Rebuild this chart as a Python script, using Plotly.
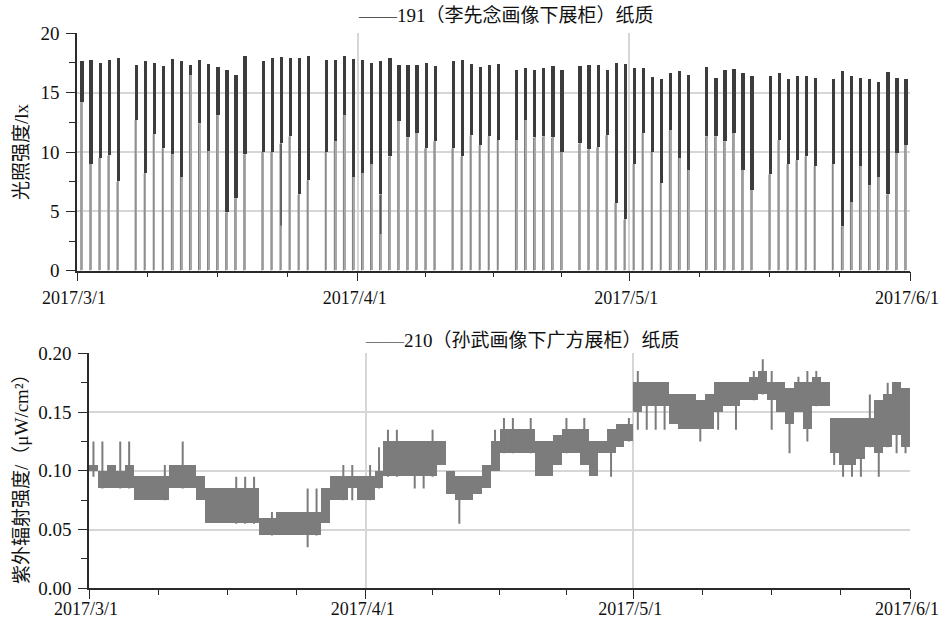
import pandas as pd
import plotly.graph_objects as go

# ---------------------------------------------------------------------------
# Data: 2017-03-01 .. 2017-05-31, one entry per day
# ---------------------------------------------------------------------------
start = pd.Timestamp("2017-03-01")
end = pd.Timestamp("2017-06-01")
n_days = 92
dates = [start + pd.Timedelta(days=i) for i in range(n_days)]

# Case 191 (paper) - illuminance in lx: daily peak, daytime low, short dips.
# None = lights off all day (closed).
lux_peak = [17.6, 17.75, 17.5, 17.7, 17.9, None, 17.3, 17.6, 17.5, 17.2,
            17.8, 17.6, 17.3, 17.75, 17.4, 17.1, 16.9, 16.5, 18.1, None,
            17.6, 17.9, 18.0, 17.9, 17.9, 18.1, None, 17.7, 17.75, 18.05,
            17.8, 17.75, 17.5, 17.6, 17.9, 17.3, 17.3, 17.3, 17.5, 17.2,
            None, 17.6, 17.7, 17.4, 17.1, 17.3, 17.4, None, 16.9, 17.05,
            16.9, 17.05, 17.25, 16.9, None, 17.2, 17.3, 17.3, 16.9, 17.5,
            17.4, 17.05, 17.05, 16.3, 16.1, 16.6, 16.8, 16.5, None, 17.1,
            16.2, 16.9, 16.95, 16.6, 16.35, None, 16.35, 16.6, 16.1, 16.4,
            16.35, 16.2, None, 16.1, 16.8, 16.35, 16.2, 16.1, 15.9, 16.7,
            16.2, 16.1]
lux_low = [14.2, 9.0, 9.5, 9.7, 7.5, None, 12.7, 8.2, 11.5, 10.3,
           9.8, 7.9, 16.5, 12.4, 10.1, 13.1, 4.9, 6.1, 9.8, None,
           10.0, 10.0, 10.7, 11.3, 6.4, 7.6, None, 10.0, 10.9, 13.1,
           7.9, 8.2, 9.0, 6.4, 9.6, 12.6, 11.2, 11.6, 10.3, 10.9,
           None, 10.3, 9.6, 11.4, 10.6, 11.3, 11.0, None, 11.0, 12.7,
           11.2, 11.3, 11.2, 10.0, None, 10.7, 10.2, 10.4, 11.4, 5.7,
           4.3, 9.0, 11.6, 10.0, 7.4, 11.85, 9.5, 8.5, None, 11.3,
           11.3, 10.9, 11.6, 8.5, 6.8, None, 8.1, 11.0, 9.0, 9.3,
           9.6, 8.8, None, 9.0, 3.7, 5.8, 8.8, 7.2, 7.9, 6.4,
           9.9, 10.6]
lux_dip = [None] * 22 + [3.8] + [None] * 10 + [3.1] + [None] * 58

# Case 210 (paper) - UV irradiance in uW/cm2: daily band low/high and
# brief excursions above / below the band.
uv_lo = [0.100, 0.085, 0.085, 0.085, 0.085, 0.075, 0.075, 0.075, 0.075, 0.085,
         0.085, 0.085, 0.075, 0.055, 0.055, 0.055, 0.055, 0.055, 0.055, 0.045,
         0.045, 0.045, 0.045, 0.045, 0.045, 0.045, 0.055, 0.075, 0.075, 0.085,
         0.075, 0.075, 0.085, 0.095, 0.095, 0.095, 0.095, 0.095, 0.095, 0.105,
         0.080, 0.075, 0.075, 0.080, 0.085, 0.100, 0.115, 0.115, 0.115, 0.115,
         0.095, 0.095, 0.105, 0.115, 0.115, 0.105, 0.095, 0.115, 0.115, 0.120,
         0.125, 0.150, 0.155, 0.155, 0.155, 0.140, 0.135, 0.135, 0.135, 0.135,
         0.150, 0.155, 0.155, 0.160, 0.160, 0.165, 0.160, 0.150, 0.140, 0.150,
         0.135, 0.155, 0.155, 0.115, 0.105, 0.105, 0.110, 0.120, 0.115, 0.120,
         0.130, 0.120]
uv_hi = [0.105, 0.100, 0.105, 0.100, 0.105, 0.095, 0.095, 0.095, 0.095, 0.105,
         0.105, 0.105, 0.095, 0.085, 0.085, 0.085, 0.085, 0.085, 0.085, 0.060,
         0.060, 0.065, 0.065, 0.065, 0.065, 0.065, 0.085, 0.095, 0.095, 0.095,
         0.095, 0.095, 0.100, 0.125, 0.125, 0.125, 0.125, 0.125, 0.125, 0.125,
         0.100, 0.095, 0.095, 0.095, 0.105, 0.125, 0.135, 0.135, 0.135, 0.135,
         0.125, 0.125, 0.130, 0.135, 0.135, 0.135, 0.125, 0.125, 0.135, 0.140,
         0.140, 0.175, 0.175, 0.175, 0.175, 0.165, 0.165, 0.165, 0.160, 0.165,
         0.175, 0.175, 0.175, 0.175, 0.180, 0.185, 0.175, 0.175, 0.170, 0.175,
         0.175, 0.180, 0.175, 0.145, 0.145, 0.145, 0.145, 0.145, 0.160, 0.165,
         0.175, 0.170]
uv_max = [0.125, 0.125, None, 0.125, 0.125, None, None, None, 0.105, None,
          0.125, None, None, None, None, None, 0.095, 0.095, 0.095, None,
          0.065, None, None, None, 0.085, 0.085, None, None, 0.105, 0.105,
          None, 0.105, 0.120, 0.135, 0.135, None, None, None, 0.135, None,
          None, None, None, None, None, 0.135, 0.145, 0.145, None, 0.145,
          None, None, None, 0.145, None, 0.145, None, None, None, None,
          0.145, 0.185, None, None, None, None, None, None, None, None,
          None, None, None, None, 0.185, 0.195, 0.185, None, None, 0.180,
          0.185, 0.185, None, None, None, None, None, 0.165, None, 0.175,
          None, None]
uv_min = [0.095, None, None, None, None, None, None, None, None, None,
          None, None, None, None, None, None, None, None, None, None,
          None, None, None, None, 0.035, None, None, None, None, 0.075,
          None, None, None, None, None, None, 0.085, 0.085, None, None,
          None, 0.055, None, None, None, None, None, None, None, None,
          None, None, None, None, None, None, None, None, 0.095, None,
          None, 0.135, 0.135, 0.135, 0.135, None, None, None, 0.125, None,
          0.135, None, 0.135, None, None, None, 0.135, None, 0.115, None,
          0.125, None, None, 0.105, 0.095, 0.095, 0.095, None, 0.095, None,
          0.115, 0.115]

x_ticks = ["2017-03-01", "2017-04-01", "2017-05-01", "2017-06-01"]
x_tick_text = ["2017/3/1", "2017/4/1", "2017/5/1", "2017/6/1"]

# ---------------------------------------------------------------------------
DAY_MS = 86400000
LIGHT_ON = 0.42      # fraction of the day when the case lights switch on
LIGHT_OFF = 0.66
SERIF = "Liberation Serif, Noto Sans CJK SC, serif"
CJK = "Liberation Serif, Noto Sans CJK SC"

def at(d, frac):
    return dates[d] + pd.Timedelta(days=frac)

fig = go.Figure()

# ---- illuminance: lamp on/off columns, then the dense daytime band --------
open_days = [d for d in range(n_days) if lux_peak[d] is not None]
mid = (LIGHT_ON + LIGHT_OFF) / 2
fig.add_trace(go.Bar(
    x=[at(d, mid) for d in open_days],
    y=[lux_peak[d] for d in open_days],
    width=(LIGHT_OFF - LIGHT_ON) * DAY_MS,
    marker=dict(color="#a8a8a8", line=dict(width=0)),
    xaxis="x", yaxis="y", showlegend=False, hoverinfo="skip"))

lx, ly = [], []
for d in open_days:
    lx += [at(d, LIGHT_ON), at(d, LIGHT_ON), None]
    ly += [0, lux_low[d], None]
fig.add_trace(go.Scatter(
    x=lx, y=ly, mode="lines", line=dict(color="#808080", width=1),
    xaxis="x", yaxis="y", showlegend=False, hoverinfo="skip"))

fig.add_trace(go.Bar(
    x=[at(d, mid + 0.02) for d in open_days],
    base=[lux_low[d] for d in open_days],
    y=[lux_peak[d] - lux_low[d] for d in open_days],
    width=0.36 * DAY_MS,
    marker=dict(color="#3c3c3c", line=dict(width=0)),
    xaxis="x", yaxis="y", showlegend=False, hoverinfo="skip"))

dx, dy = [], []
for d in open_days:
    if lux_dip[d] is not None:
        dx += [at(d, mid), at(d, mid), None]
        dy += [lux_low[d], lux_dip[d], None]
fig.add_trace(go.Scatter(
    x=dx, y=dy, mode="lines", line=dict(color="#555555", width=1.6),
    xaxis="x", yaxis="y", showlegend=False, hoverinfo="skip"))

# ---- UV irradiance: daily band plus short excursions -----------------------
UV_COLOR = "#7c7c7c"
fig.add_trace(go.Bar(
    x=[at(d, 0.5) for d in range(n_days)],
    base=uv_lo,
    y=[h - l for h, l in zip(uv_hi, uv_lo)],
    width=DAY_MS,
    marker=dict(color=UV_COLOR, line=dict(width=0)),
    xaxis="x2", yaxis="y2", showlegend=False, hoverinfo="skip"))

sx, sy = [], []
for d in range(n_days):
    top = uv_max[d] if uv_max[d] is not None else uv_hi[d]
    bot = uv_min[d] if uv_min[d] is not None else uv_lo[d]
    if top > uv_hi[d] or bot < uv_lo[d]:
        sx += [at(d, 0.5), at(d, 0.5), None]
        sy += [bot, top, None]
fig.add_trace(go.Scatter(
    x=sx, y=sy, mode="lines", line=dict(color=UV_COLOR, width=2),
    xaxis="x2", yaxis="y2", showlegend=False, hoverinfo="skip"))

# ---------------------------------------------------------------------------
W, H = 942, 622
GRID = "#d6d6d6"
AX = "#2a2a2a"
tick_font = dict(family=SERIF, size=19, color="#111111")
xtick_font = dict(family=SERIF, size=18, color="#111111")
MINOR_X = ["2017-03-08 18:00", "2017-03-16 12:00", "2017-03-24 06:00",
           "2017-04-08 12:00", "2017-04-16", "2017-04-23 12:00",
           "2017-05-08 18:00", "2017-05-16 12:00", "2017-05-24 06:00"]

def x_axis(domain, anchor, standoff):
    return dict(
        type="date", domain=domain, anchor=anchor, automargin=False,
        range=[start, end], tickmode="array", tickvals=x_ticks,
        ticktext=x_tick_text, showgrid=True, gridcolor=GRID, gridwidth=2,
        showline=True, linecolor=AX, linewidth=1.5, ticks="outside",
        ticklen=9, tickwidth=1.3, tickcolor=AX, tickfont=xtick_font,
        ticklabelstandoff=standoff, ticklabelshift=-3,
        ticklabeloverflow="allow", zeroline=False,
        minor=dict(ticks="outside", ticklen=5, tickwidth=1.2, tickcolor=AX,
                   tickmode="array", showgrid=False, tickvals=MINOR_X))

def y_axis(domain, anchor, rng, vals, minor_vals, fmt):
    return dict(
        domain=domain, anchor=anchor, automargin=False, range=rng,
        tickmode="array",
        tickvals=vals, tickformat=fmt, showgrid=True, gridcolor=GRID,
        gridwidth=2, showline=True, linecolor=AX, linewidth=1.5,
        ticks="outside", ticklen=9, tickwidth=1.3, tickcolor=AX,
        tickfont=tick_font, ticklabelstandoff=3, ticklabeloverflow="allow",
        zeroline=False,
        minor=dict(ticks="outside", ticklen=6, tickwidth=1.2, tickcolor=AX,
                   tickmode="array", tickvals=minor_vals, showgrid=False))

fig.update_layout(
    width=W, height=H, margin=dict(l=0, r=0, t=0, b=0),
    paper_bgcolor="white", plot_bgcolor="white",
    barmode="overlay", bargap=0,
    xaxis=x_axis([77 / W, 910 / W], "y", 1),
    yaxis=y_axis([1 - 270.7 / H, 1 - 33.3 / H], "x", [0, 20],
                 [0, 5, 10, 15, 20], [2.5, 7.5, 12.5, 17.5], "d"),
    xaxis2=x_axis([89 / W, 910 / W], "y2", -6),
    yaxis2=y_axis([1 - 588.3 / H, 1 - 353.3 / H], "x2", [0, 0.2],
                  [0, 0.05, 0.10, 0.15, 0.20],
                  [0.025, 0.075, 0.125, 0.175], ".2f"),
    annotations=[
        dict(text="<span style='color:#555555'>——</span>191（李先念画像下展柜）纸质",
             x=506 / W, y=1 - 15 / H, xref="paper", yref="paper",
             xanchor="center", yanchor="middle", showarrow=False,
             font=dict(family=CJK, size=19, color="#111111")),
        dict(text="<span style='color:#777777'>——</span>210（孙武画像下广方展柜）纸质",
             x=522 / W, y=1 - 340 / H, xref="paper", yref="paper",
             xanchor="center", yanchor="middle", showarrow=False,
             font=dict(family=CJK, size=19, color="#111111")),
        dict(text="光照强度/lx", textangle=-90,
             x=21 / W, y=1 - 152 / H, xref="paper", yref="paper",
             xanchor="center", yanchor="middle", showarrow=False,
             font=dict(family=CJK, size=19, color="#111111")),
        dict(text="紫外辐射强度/（μW/cm²）", textangle=-90,
             x=21 / W, y=1 - 474 / H, xref="paper", yref="paper",
             xanchor="center", yanchor="middle", showarrow=False,
             font=dict(family=CJK, size=19, color="#111111")),
    ],
)

fig.write_html("out.html")
